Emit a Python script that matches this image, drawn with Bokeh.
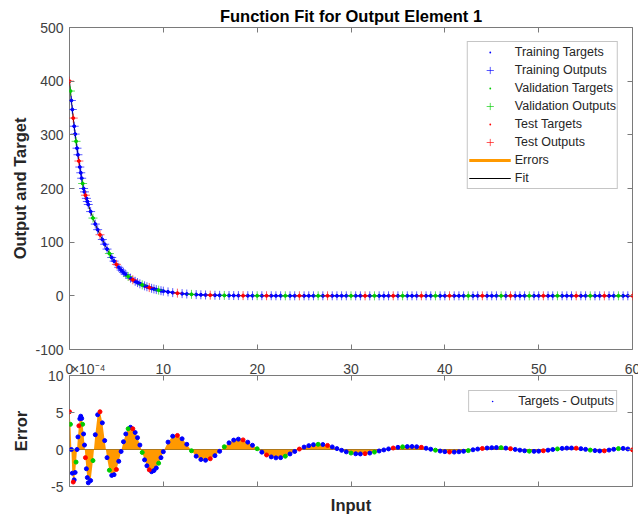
from bokeh.plotting import figure
from bokeh.layouts import column
from bokeh.models import (Range1d, LinearAxis, Legend, LegendItem,
                          FixedTicker, ColumnDataSource)
from bokeh.embed import file_html
from bokeh.resources import INLINE

FONT = "Liberation Sans"

# ---------------- data ----------------
x_in = [
    0.0, 0.1, 0.2, 0.3, 0.4, 0.5, 0.6, 0.7, 0.8, 0.9,
    1.0, 1.1, 1.2, 1.3, 1.4, 1.5, 1.6, 1.7, 1.8, 1.9, 2.0,
    2.25, 2.5, 2.75, 3.0, 3.25, 3.5, 3.75, 4.0,
    4.25, 4.5, 4.75, 5.0, 5.25, 5.5, 5.75, 6.0,
    6.25, 6.5, 6.75, 7.0, 7.25, 7.5, 7.75, 8.0,
    8.25, 8.5, 8.75, 9.0, 9.25, 9.5, 9.75, 10.0,
    10.5, 11.0, 11.5, 12.0, 12.5, 13.0, 13.5, 14.0, 14.5, 15.0,
    15.5, 16.0, 16.5, 17.0, 17.5, 18.0, 18.5, 19.0, 19.5, 20.0,
    20.5, 21.0, 21.5, 22.0, 22.5, 23.0, 23.5, 24.0, 24.5, 25.0,
    25.5, 26.0, 26.5, 27.0, 27.5, 28.0, 28.5, 29.0, 29.5, 30.0,
    30.5, 31.0, 31.5, 32.0, 32.5, 33.0, 33.5, 34.0, 34.5, 35.0,
    35.5, 36.0, 36.5, 37.0, 37.5, 38.0, 38.5, 39.0, 39.5, 40.0,
    40.5, 41.0, 41.5, 42.0, 42.5, 43.0, 43.5, 44.0, 44.5, 45.0,
    45.5, 46.0, 46.5, 47.0, 47.5, 48.0, 48.5, 49.0, 49.5, 50.0,
    50.5, 51.0, 51.5, 52.0, 52.5, 53.0, 53.5, 54.0, 54.5, 55.0,
    55.5, 56.0, 56.5, 57.0, 57.5, 58.0, 58.5, 59.0, 59.5, 60.0,
]

targets = [
    400.0, 381.6, 364.0, 347.2, 331.2, 316.0, 301.4, 287.9, 275.1, 262.9,
    251.2, 240.0, 229.3, 219.1, 209.3, 200.0, 193.7, 187.5, 181.6, 175.8, 170.2,
    157.0, 144.9, 133.7, 123.3, 113.8, 105.0, 96.1, 87.1,
    78.8, 71.4, 64.7, 58.6, 53.1, 48.1, 43.7, 39.8,
    36.1, 32.9, 29.9, 27.1, 24.7, 22.4, 20.4, 18.6,
    16.9, 15.4, 14.0, 12.8, 11.6, 10.6, 9.6, 8.8,
    7.3, 6.0, 5.0, 4.1, 3.4, 2.8, 2.3, 1.9, 1.6, 1.3,
    1.1, 0.9, 0.75, 0.62, 0.51, 0.42, 0.35, 0.29, 0.24, 0.2,
    0.16, 0.13, 0.11, 0.09, 0.08, 0.06, 0.05, 0.04, 0.04, 0.03,
    0.03, 0.02, 0.02, 0.02, 0.01, 0.01, 0.01, 0.01, 0.01, 0.01,
    0.0, 0.0, 0.0, 0.0, 0.0, 0.0, 0.0, 0.0, 0.0, 0.0,
    0.0, 0.0, 0.0, 0.0, 0.0, 0.0, 0.0, 0.0, 0.0, 0.0,
    0.0, 0.0, 0.0, 0.0, 0.0, 0.0, 0.0, 0.0, 0.0, 0.0,
    0.0, 0.0, 0.0, 0.0, 0.0, 0.0, 0.0, 0.0, 0.0, 0.0,
    0.0, 0.0, 0.0, 0.0, 0.0, 0.0, 0.0, 0.0, 0.0, 0.0,
    0.0, 0.0, 0.0, 0.0, 0.0, 0.0, 0.0, 0.0, 0.0, 0.0,
]

# targets - outputs, in units of 1e-4
errors_e4 = [
    5.1, 3.4, 0.0, -3.2, -4.4, -4.1, -3.1, -1.7, 0.0, 1.7,
    3.2, 4.15, 4.5, 4.2, 3.4, 2.1, 0.6, -1.1, -2.6, -3.8, -4.5,
    -4.2, -1.5, 2.0, 4.7, 5.1, 3.6, 1.2, -1.1,
    -2.8, -3.5, -3.4, -2.7, -1.6, -0.27, 1.05, 2.1,
    2.8, 3.0, 2.8, 2.3, 1.6, 0.6, -0.4, -1.4,
    -2.2, -2.75, -3.0, -2.85, -2.5, -1.85, -1.1, -0.3,
    1.0, 1.8, 1.9, 1.45, 0.7, -0.17, -0.9, -1.35, -1.45, -1.25,
    -0.83, -0.25, 0.37, 0.9, 1.27, 1.4, 1.3, 0.99, 0.57, 0.1,
    -0.36, -0.74, -1.0, -1.13, -1.1, -0.91, -0.6, -0.27, 0.06, 0.33,
    0.52, 0.65, 0.7, 0.67, 0.55, 0.35, 0.12, -0.11, -0.32, -0.48,
    -0.58, -0.6, -0.56, -0.48, -0.35, -0.2, -0.06, 0.08, 0.2, 0.29,
    0.36, 0.39, 0.4, 0.37, 0.29, 0.17, 0.04, -0.09, -0.21, -0.29,
    -0.34, -0.35, -0.31, -0.24, -0.15, -0.04, 0.06, 0.14, 0.2, 0.24,
    0.26, 0.25, 0.19, 0.11, 0.01, -0.09, -0.17, -0.23, -0.25, -0.23,
    -0.17, -0.09, 0.0, 0.08, 0.15, 0.19, 0.2, 0.18, 0.11, 0.02,
    -0.08, -0.15, -0.2, -0.18, -0.08, 0.03, 0.12, 0.15, 0.07, -0.05,
]

# data division of each sample: T = training, V = validation, S = test
split = (
    "SVTTSTTVTTSTTTVTTSTTT"
    "TVTTSTTTVTTSTTTTVTSTTTVTTSTTTVTT"
    "TTSTTVTTTS"
    "TTVTTTSTTV"
    "TSTTTVTTST"
    "TTVTSTTTTV"
    "TTSTVTTTST"
    "VTTTSTTVTT"
    "STTTVTTSTT"
    "TVTSTTTVTT"
    "STTVTTTSTT"
    "VTTSTTVTTS"
)

x_ticks = [0, 10, 20, 30, 40, 50, 60]
y1_ticks = [-100, 0, 100, 200, 300, 400, 500]
y2_ticks = [-5, 0, 5, 10]
EXP_TEXT = "×10⁻⁴"      # exponent of the error axis
EXP_AT = 2.0            # where that exponent text sits along the input axis

set_names = ["Training", "Validation", "Test"]
set_codes = ["T", "V", "S"]
set_colors = ["#0000ff", "#00cc00", "#ff0000"]

ORANGE = "#ff9900"
AX = "#7a7a7a"
TXT = "#404040"

outputs = [t - e * 1e-4 for t, e in zip(targets, errors_e4)]


def style_axis(ax, labels=True, ticks=True):
    ax.axis_line_color = None
    ax.major_tick_line_color = AX if ticks else None
    ax.major_tick_in = 5 if ticks else 0
    ax.major_tick_out = 0
    ax.minor_tick_line_color = None
    ax.major_label_text_font = FONT
    if labels:
        ax.major_label_text_font_size = "14px"
        ax.major_label_text_color = TXT
    else:
        ax.major_label_text_font_size = "0px"
        ax.major_label_text_color = None
        ax.major_label_standoff = 0
    ax.axis_label_text_font = FONT
    ax.axis_label_text_font_size = "16.5px"
    ax.axis_label_text_font_style = "bold"
    ax.axis_label_text_color = "#262626"


def new_fig(h, xr, yr, top, bottom):
    f = figure(width=638, height=h, x_range=xr, y_range=yr,
               output_backend="svg", toolbar_location=None,
               min_border_left=69, min_border_right=6,
               min_border_top=top, min_border_bottom=bottom,
               background_fill_color="white", border_fill_color="white")
    f.grid.visible = False
    f.outline_line_color = AX
    f.outline_line_width = 1
    return f


def legend(items, n_h, margin, pad):
    return Legend(items=items, location="top_right", margin=margin, padding=pad,
                  spacing=0, glyph_width=42, glyph_height=n_h, label_height=n_h,
                  label_standoff=4, label_text_font=FONT,
                  label_text_font_size="12.5px", label_text_color="#262626",
                  border_line_color="#8c8c8c", border_line_width=1,
                  background_fill_color="white", background_fill_alpha=1)


xr = Range1d(0, 60)

# ---------------- top panel ----------------
p1 = new_fig(357, xr, Range1d(-100, 500), 27, 8)
p1.title.text = "Function Fit for Output Element 1"
p1.title.align = "center"
p1.title.text_font = FONT
p1.title.text_font_size = "16.5px"
p1.title.text_font_style = "bold"
p1.title.text_color = "black"
p1.title.standoff = 6

p1.xaxis.ticker = FixedTicker(ticks=x_ticks)
p1.yaxis.ticker = FixedTicker(ticks=y1_ticks)
p1.yaxis.major_label_overrides = {-100: "-100"}
style_axis(p1.xaxis[0], labels=False)
style_axis(p1.yaxis[0])
p1.yaxis.major_label_standoff = 6
p1.yaxis.axis_label = "Output and Target"
p1.yaxis.axis_label_standoff = 3
for side in ("above", "right"):
    ax = LinearAxis(ticker=FixedTicker(ticks=x_ticks if side == "above" else y1_ticks))
    style_axis(ax, labels=False)
    p1.add_layout(ax, side)

r_err = p1.segment(x0=x_in, y0=targets, x1=x_in, y1=outputs,
                   line_color=ORANGE, line_width=3)
r_fit = p1.line(x=x_in, y=outputs, line_color="black", line_width=1)

leg_dot, leg_plus = {}, {}
for code, col in zip(set_codes, set_colors):
    idx = [i for i, c in enumerate(split) if c == code]
    src = ColumnDataSource(dict(x=[x_in[i] for i in idx],
                                t=[targets[i] for i in idx],
                                o=[outputs[i] for i in idx]))
    leg_plus[code] = p1.scatter("x", "o", source=src, marker="cross", size=9,
                                line_color=col, line_alpha=0.65, line_width=1)
    p1.scatter("x", "t", source=src, marker="circle", size=3,
               fill_color=col, line_color=col)
    # tiny dot drawn on the same targets: gives the legend its small dot
    leg_dot[code] = p1.scatter("x", "t", source=src, marker="dot", size=6,
                               line_color=col, fill_color=col, line_width=2)

items = []
for code, name in zip(set_codes, set_names):
    items.append(LegendItem(label=name + " Targets", renderers=[leg_dot[code]]))
    items.append(LegendItem(label=name + " Outputs", renderers=[leg_plus[code]]))
items.append(LegendItem(label="Errors", renderers=[r_err]))
items.append(LegendItem(label="Fit", renderers=[r_fit]))
p1.add_layout(legend(items, 18, 14, 1))

# ---------------- bottom panel ----------------
p2 = new_fig(161, xr, Range1d(-5, 10), 15, 32)
p2.xaxis.ticker = FixedTicker(ticks=x_ticks)
p2.yaxis.ticker = FixedTicker(ticks=y2_ticks)
p2.yaxis.major_label_overrides = {-5: "-5"}
style_axis(p2.xaxis[0], labels=False)
p2.xaxis.axis_label = "Input"
p2.xaxis.axis_label_standoff = 9
style_axis(p2.yaxis[0])
p2.yaxis.major_label_standoff = 6
p2.yaxis.axis_label = "Error"
p2.yaxis.axis_label_standoff = 15
for side in ("above", "right"):
    ax = LinearAxis(ticker=FixedTicker(ticks=x_ticks if side == "above" else y2_ticks))
    style_axis(ax, labels=False)
    p2.add_layout(ax, side)
# input tick labels (and the error exponent) in the gap between the panels
ax_t2 = LinearAxis(ticker=FixedTicker(ticks=x_ticks + [EXP_AT]))
style_axis(ax_t2, labels=True, ticks=False)
ax_t2.major_label_standoff = -1
ax_t2.major_label_overrides = {EXP_AT: EXP_TEXT}
p2.add_layout(ax_t2, "above")

p2.varea(x=x_in, y1=0, y2=errors_e4, fill_color=ORANGE)
p2.line(x=[0, 60], y=[0, 0], line_color="#b07818", line_width=1)

r_e = {}
for code, col in zip(set_codes, set_colors):
    idx = [i for i, c in enumerate(split) if c == code]
    src = ColumnDataSource(dict(x=[x_in[i] for i in idx],
                                e=[errors_e4[i] for i in idx]))
    p2.scatter("x", "e", source=src, marker="circle", size=4,
               fill_color=col, line_color=col)
    r_e[code] = p2.scatter("x", "e", source=src, marker="dot", size=6,
                           line_color=col, fill_color=col, line_width=2)
leg2 = legend([LegendItem(label="Targets - Outputs", renderers=[r_e["T"]])], 16, 15, 2)
leg2.label_standoff = 5
p2.add_layout(leg2)

layout = column(p1, p2, spacing=0)
open("out.html", "w").write(file_html(layout, INLINE))
